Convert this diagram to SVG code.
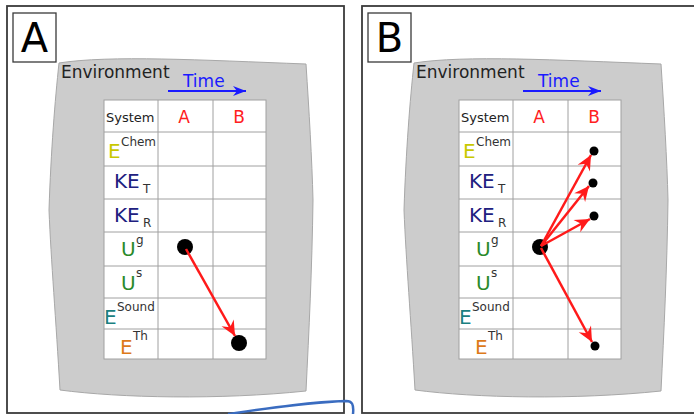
<svg xmlns="http://www.w3.org/2000/svg" width="694" height="414" viewBox="0 0 694 414">
<style>
text{font-family:"DejaVu Sans","Verdana",sans-serif}
.frame{fill:#fff;stroke:#3a3a3a;stroke-width:1.8}
.lbox{fill:#fff;stroke:#3a3a3a;stroke-width:1.3}
.big{font-size:40px;fill:#000}
.env{fill:#cccccc;stroke:#a8a8a8;stroke-width:1}
.envt{font-size:17px;fill:#222}
.time{font-size:17px;fill:#1a1aff}
.tarrow{stroke:#1a1aff;stroke-width:2;fill:none}
.grid{fill:none;stroke:#a0a0a0;stroke-width:1}
.tbl{fill:#fff;stroke:#a0a0a0;stroke-width:1}
.sys{font-size:13px;fill:#222}
.col{font-size:17px;fill:#ff2020;text-anchor:middle}
.main{font-size:20px}
.sup{font-size:12px;fill:#333}
.yel{fill:#c8c800}.navy{fill:#202080}.grn{fill:#2a8a2a}.teal{fill:#1a8080}.org{fill:#dd7a1a}
.dot{fill:#000}
.arr{stroke:#ff1a1a;stroke-width:2.5;fill:none;marker-end:url(#ah)}
</style>
<defs>
<marker id="ah" markerUnits="userSpaceOnUse" markerWidth="18" markerHeight="16" viewBox="-16 -8 18 16" refX="0" refY="0" orient="auto">
<path d="M0,0 L-15,-7 L-10,0 L-15,7 Z" fill="#ff1a1a"/>
</marker>
<marker id="bh" markerUnits="userSpaceOnUse" markerWidth="16" markerHeight="12" viewBox="-14 -6 16 12" refX="0" refY="0" orient="auto">
<path d="M0,0 L-13,-5 L-9,0 L-13,5 Z" fill="#1a1aff"/>
</marker>
</defs>

<g id="panelA">
<rect class="frame" x="7" y="6" width="337" height="407"/>
<rect class="lbox" x="13" y="13" width="43" height="49"/>
<text class="big" x="34.5" y="52" text-anchor="middle">A</text>
<path class="env" d="M59,63 C110,55 200,60 306,64 C309,110 312,160 313,200 C312,270 309,330 306,391 C220,400 120,398 60,390 C56,320 51,260 49,210 C51,150 55,100 59,63 Z"/>
<text class="envt" x="61" y="78">Environment</text>
<text class="time" x="183" y="87">Time</text>
<path class="tarrow" d="M168,91 L246,91" marker-end="url(#bh)"/>
<rect class="tbl" x="104" y="100" width="162" height="259"/>
<path class="grid" d="M158,100V359M213,100V359M104,132H266M104,166H266M104,199H266M104,232H266M104,266H266M104,298H266M104,329H266"/>
<text class="sys" x="106" y="122">System</text>
<text class="col" x="184" y="123">A</text>
<text class="col" x="239" y="123">B</text>
<text class="main yel" x="108" y="158">E</text><text class="sup" x="121" y="146">Chem</text>
<text class="main navy" x="114" y="188">KE</text><text class="sup" x="143" y="193">T</text>
<text class="main navy" x="114" y="222">KE</text><text class="sup" x="143" y="227">R</text>
<text class="main grn" x="121" y="256">U</text><text class="sup" x="136" y="244">g</text>
<text class="main grn" x="121" y="290">U</text><text class="sup" x="136" y="277">s</text>
<text class="main teal" x="104" y="324">E</text><text class="sup" x="117" y="311">Sound</text>
<text class="main org" x="120" y="354">E</text><text class="sup" x="133" y="340">Th</text>
</g>

<g id="panelB">
<rect class="frame" x="362" y="6" width="340" height="407"/>
<rect class="lbox" x="368" y="13" width="43" height="49"/>
<text class="big" x="389.5" y="52" text-anchor="middle">B</text>
<path class="env" d="M414,63 C465,55 555,60 661,64 C664,110 667,160 668,200 C667,270 664,330 661,391 C575,400 475,398 415,390 C411,320 406,260 404,210 C406,150 410,100 414,63 Z"/>
<text class="envt" x="416" y="78">Environment</text>
<text class="time" x="538" y="87">Time</text>
<path class="tarrow" d="M523,91 L601,91" marker-end="url(#bh)"/>
<rect class="tbl" x="459" y="100" width="162" height="259"/>
<path class="grid" d="M513,100V359M568,100V359M459,132H621M459,166H621M459,199H621M459,232H621M459,266H621M459,298H621M459,329H621"/>
<text class="sys" x="461" y="122">System</text>
<text class="col" x="539" y="123">A</text>
<text class="col" x="594" y="123">B</text>
<text class="main yel" x="463" y="158">E</text><text class="sup" x="476" y="146">Chem</text>
<text class="main navy" x="469" y="188">KE</text><text class="sup" x="498" y="193">T</text>
<text class="main navy" x="469" y="222">KE</text><text class="sup" x="498" y="227">R</text>
<text class="main grn" x="476" y="256">U</text><text class="sup" x="491" y="244">g</text>
<text class="main grn" x="476" y="290">U</text><text class="sup" x="491" y="277">s</text>
<text class="main teal" x="459" y="324">E</text><text class="sup" x="472" y="311">Sound</text>
<text class="main org" x="475" y="354">E</text><text class="sup" x="488" y="340">Th</text>
</g>

<g id="dots">
<circle class="dot" cx="185" cy="247" r="8"/>
<circle class="dot" cx="239" cy="343" r="8"/>
<circle class="dot" cx="540" cy="247" r="8"/>
<circle class="dot" cx="594" cy="151" r="4.5"/>
<circle class="dot" cx="593" cy="183" r="4.5"/>
<circle class="dot" cx="594" cy="216" r="4.5"/>
<circle class="dot" cx="595" cy="346" r="4.5"/>
</g>

<g id="connectors">
<path class="arr" d="M186,249 L235,336"/>
<path class="arr" d="M541,246 L591,155"/>
<path class="arr" d="M541,246 L589,186"/>
<path class="arr" d="M541,246 L590,219"/>
<path class="arr" d="M541,248 L592,342"/>
<path d="M228,414 C270,408 310,402 346,401 C352,401 354,404 353,414" fill="none" stroke="#3a6cc0" stroke-width="2.5"/>
</g>
</svg>
